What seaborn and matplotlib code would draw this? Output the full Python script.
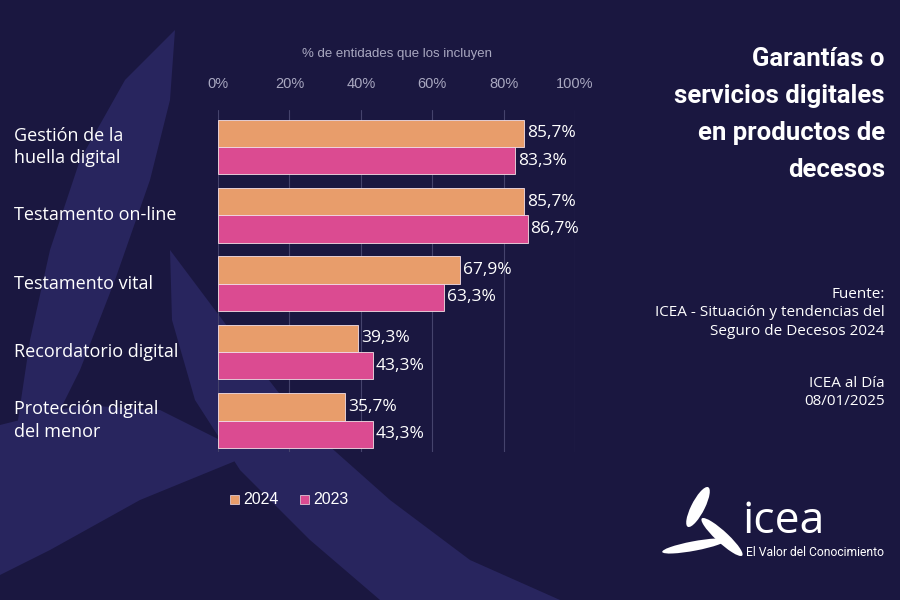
import numpy as np
import pandas as pd
import matplotlib
matplotlib.use("Agg")
import matplotlib.pyplot as plt
import matplotlib.transforms as mtrans
from matplotlib.patches import Polygon, Ellipse, Rectangle
import seaborn as sns

# data
categories = ["Gestión de la\nhuella digital", "Testamento on-line", "Testamento vital",
              "Recordatorio digital", "Protección digital\ndel menor"]
years = ["2024", "2023"]
values_2024 = [85.7, 85.7, 67.9, 39.3, 35.7]
values_2023 = [83.3, 86.7, 63.3, 43.3, 43.3]
x_ticks = [0, 20, 40, 60, 80, 100]

BG = "#1a1740"
SHAPE = "#28255e"
ORANGE = "#e89d6b"
PINK = "#db4b91"
GREY = "#a9a8c0"

df = pd.DataFrame({
    "cat": categories * 2,
    "year": [years[0]] * len(categories) + [years[1]] * len(categories),
    "val": values_2024 + values_2023,
})

sns.set_style("white")
plt.rcParams["font.family"] = ["Open Sans", "DejaVu Sans"]

fig = plt.figure(figsize=(9, 6), dpi=100, facecolor=BG)

# decorative background shapes (figure pixel coords, origin top-left)
def px(pts):
    return [(x / 900, 1 - y / 600) for x, y in pts]

shapes = [
    # tall leaf on the left
    [(175, 30), (125, 80), (80, 160), (50, 250), (30, 340), (18, 420), (10, 490),
     (45, 440), (80, 370), (115, 280), (150, 180), (170, 100)],
    # curved band to the bottom right
    [(170, 250), (172, 320), (195, 400), (240, 470), (310, 540), (380, 600), (560, 600),
     (470, 560), (390, 500), (300, 420), (230, 330)],
    # bottom left wedge
    [(0, 425), (80, 405), (160, 410), (250, 455), (140, 500), (50, 550), (0, 575)],
]
for s in shapes:
    fig.patches.append(Polygon(px(s), closed=True, transform=fig.transFigure,
                               facecolor=SHAPE, edgecolor="none", zorder=-5))

ax = fig.add_axes([218 / 900, 1 - 452 / 600, 357 / 900, 342 / 600], zorder=2)
ax.set_facecolor("none")

sns.barplot(data=df, y="cat", x="val", hue="year", orient="h", ax=ax,
            palette=[ORANGE, PINK], saturation=1, width=0.8, edgecolor="#f4dfe6",
            linewidth=0.6, legend=False, zorder=3)

ax.set_xlim(0, 100)
ax.set_ylim(4.46, -0.54)
ax.set_xticks(x_ticks)
ax.set_xticklabels([f"{t}%" for t in x_ticks], color=GREY, fontsize=10.5,
                   family=["Liberation Sans", "DejaVu Sans"])
ax.xaxis.tick_top()
ax.tick_params(axis="x", length=0, pad=14)
ax.set_xlabel("% de entidades que los incluyen", color=GREY, fontsize=9.5,
              family=["Liberation Sans", "DejaVu Sans"], labelpad=14)
ax.xaxis.set_label_position("top")
ax.set_ylabel("")
ax.set_yticks([])
for sp in ax.spines.values():
    sp.set_visible(False)
ax.grid(axis="x", color="#45436c", linewidth=0.8, zorder=0)

# value labels
for cont in ax.containers:
    for bar in cont:
        w = bar.get_width()
        ax.text(w + 0.8, bar.get_y() + bar.get_height() / 2, f"{w:.1f}".replace(".", ",") + "%",
                va="center", ha="left", color="white", fontsize=12.5)

# category labels
trans = mtrans.blended_transform_factory(fig.transFigure, ax.transData)
for i, c in enumerate(categories):
    ax.text(14 / 900, i, c, transform=trans, ha="left", va="center", color="white",
            fontsize=13, linespacing=1.3)

# legend
for lx, yr, col in [(230, years[0], ORANGE), (300, years[1], PINK)]:
    fig.patches.append(Rectangle((lx / 900, 1 - 504 / 600), 9 / 900, 9 / 600,
                                 transform=fig.transFigure, facecolor=col,
                                 edgecolor="#f4dfe6", linewidth=0.5))
    fig.text((lx + 13) / 900, 1 - 499 / 600, yr, color="white", fontsize=11.5,
             va="center", ha="left", family=["Liberation Sans", "DejaVu Sans"])

# title
fig.text(885 / 900, 1 - 47 / 600, "Garantías o\nservicios digitales\nen productos de\ndecesos",
         ha="right", va="top", color="white", fontsize=18.5, fontweight="bold", linespacing=1.68,
         family=["Roboto", "DejaVu Sans"])

# source
fig.text(885 / 900, 1 - 287 / 600, "Fuente:\nICEA - Situación y tendencias del\nSeguro de Decesos 2024",
         ha="right", va="top", color="white", fontsize=11, linespacing=1.3)
fig.text(885 / 900, 1 - 376 / 600, "ICEA al Día\n08/01/2025",
         ha="right", va="top", color="white", fontsize=11, linespacing=1.3)

# logo: three blades
for (bx, by), ang, ln in [((698, 507), -18, 42), ((722, 537), 35, 46), ((694, 546), -74, 44)]:
    fig.patches.append(Ellipse((bx / 900, 1 - by / 600), 14 / 900, ln / 600,
                               angle=ang, transform=fig.transFigure, facecolor="white",
                               edgecolor="none"))
fig.text(742 / 900, 1 - 522 / 600, "icea", color="white", fontsize=32, va="center", ha="left")
fig.text(746 / 900, 1 - 553 / 600, "El Valor del Conocimiento", color="white", fontsize=8.7,
         va="center", ha="left", family=["Roboto", "DejaVu Sans"])

fig.savefig("out.png", dpi=100, facecolor=BG)
